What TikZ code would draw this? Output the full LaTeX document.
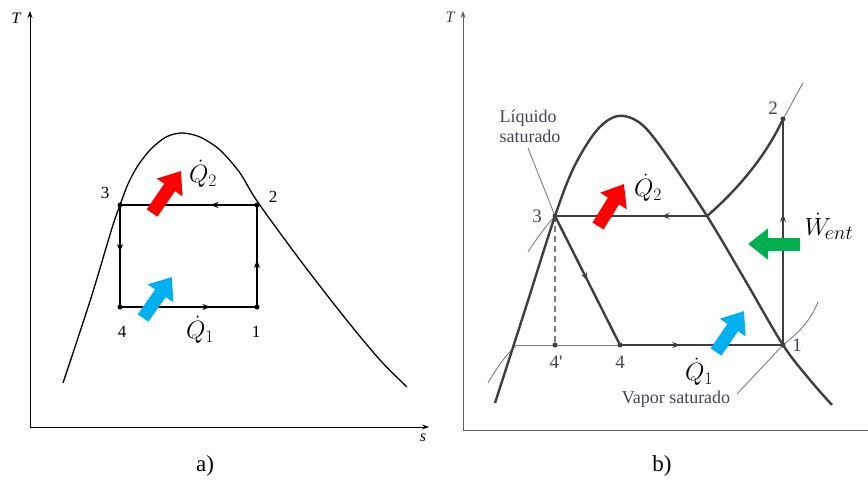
\RequirePackage{fix-cm}
\documentclass[tikz,border=0pt]{standalone}
\usepackage{fontspec}
\setmainfont{Liberation Serif}
\usetikzlibrary{arrows.meta,decorations.markings}
\definecolor{redA}{RGB}{255,0,0}
\definecolor{blueA}{RGB}{0,176,240}
\definecolor{greenA}{RGB}{0,176,80}
\definecolor{lineB}{RGB}{62,62,62}
\definecolor{thinB}{RGB}{125,125,125}
\definecolor{txtB}{RGB}{68,68,88}
\definecolor{axisB}{RGB}{95,95,95}
\tikzset{
  midarrow/.style={postaction={decorate},decoration={markings,mark=at position #1 with {\arrow{Stealth[length=8pt,width=6pt]}}}},
  blockarrow/.style={line width=13pt,-{Triangle[length=20pt,width=30pt]}},
  ptdot/.style={circle,fill,inner sep=0pt,minimum size=5pt},
  axisline/.style={line width=1pt,-{Stealth[length=7pt,width=5pt]}},
  cyca/.style={line width=2.2pt,black},
  cycb/.style={line width=2.4pt,lineB},
  thinline/.style={line width=0.9pt,thinB},
  numa/.style={font=\fontsize{17}{19}\selectfont},
  numb/.style={font=\fontsize{19}{21}\selectfont,text=txtB},
  txtlab/.style={font=\fontsize{18}{20}\selectfont,text=txtB},
  qlabel/.style={font=\fontsize{25}{28}\selectfont},
  caption/.style={font=\fontsize{23}{26}\selectfont},
  axlabel/.style={font=\fontsize{16}{18}\selectfont\itshape},
}
\begin{document}
\begin{tikzpicture}[x=1pt,y=-1pt]
\useasboundingbox (0,0) rectangle (868,480);

% ---------------- Panel a ----------------
\coordinate (aO) at (30,427);
\coordinate (aT) at (30,11);
\coordinate (aS) at (429,427);
\draw[axisline] (aO) -- (aT);
\draw[axisline] (aO) -- (aS);
\node[axlabel] (aTl) at (16,18) {T};
\node[axlabel] (aSl) at (423,438) {s};

\draw[line width=1.3pt] plot[smooth,tension=0.5] coordinates
  {(63,383) (91,298) (112,228) (120,205) (128,184) (137,167) (150,150) (166,137) (182,133) (200,137) (220,150) (240,173) (257,201) (300,260) (345,318) (380,360) (407,387)};

\coordinate (a1) at (257,307);
\coordinate (a2) at (257,205);
\coordinate (a3) at (120,205);
\coordinate (a4) at (120,307);
\draw[cyca,midarrow=0.34] (a2) -- (a3);
\draw[cyca,midarrow=0.46] (a3) -- (a4);
\draw[cyca,midarrow=0.66] (a4) -- (a1);
\draw[cyca,midarrow=0.46] (a1) -- (a2);
\foreach \p in {a1,a2,a3,a4} \node[ptdot] at (\p) {};

\node[numa] (la3) at (105,193) {3};
\node[numa] (la2) at (273,197) {2};
\node[numa] (la4) at (122,332) {4};
\node[numa] (la1) at (256,332) {1};

\coordinate (aRt) at (152,213);
\coordinate (aRh) at (181,171);
\draw[blockarrow,redA] (aRt) -- (aRh);
\coordinate (aBt) at (143,318);
\coordinate (aBh) at (172,277);
\draw[blockarrow,blueA] (aBt) -- (aBh);
\node[qlabel] (aQ2) at (203,174) {$\dot{Q}_2$};
\node[qlabel] (aQ1) at (200,330) {$\dot{Q}_1$};
\node[caption] (capa) at (205,466) {a)};

% ---------------- Panel b ----------------
\coordinate (bO) at (463,430);
\coordinate (bT) at (463,11);
\coordinate (bS) at (868,430);
\draw[axisline,axisB] (bO) -- (bT);
\draw[line width=1pt,axisB] (bO) -- (bS);
\node[axlabel,text=txtB] (bTl) at (450,17) {T};

\coordinate (b1) at (783,345);
\coordinate (b2) at (783,119);
\coordinate (b3) at (555,216);
\coordinate (b4) at (620,345);
\coordinate (b4p) at (555,345);
\coordinate (bsv) at (707,216);
\coordinate (bll) at (517,345);

% thin gray lines (isobars and leaders)
\draw[thinline] (488,383) .. controls (497,368) and (506,354) .. (bll);
\draw[thinline] (bll) -- (b4);
\draw[thinline] (528,252) .. controls (537,238) and (546,226) .. (b3);
\draw[thinline] (528,148) -- (b3);
\draw[thinline] (b2) .. controls (790,107) and (796,95) .. (803,83);
\draw[thinline] (818,302) .. controls (810,322) and (798,333) .. (b1) -- (737,394);
\draw[thinline,dashed,dash pattern=on 6pt off 4pt,line width=1.2pt] (b3) -- (b4p);

% dome
\draw[cycb] plot[smooth,tension=0.55] coordinates
  {(495,403) (525,310) (555,216) (574,167) (597,130) (618,116) (640,123) (663,150) (707,216) (745,280) (783,345) (810,380) (832,405)};

% cycle
\draw[cycb] (bsv) .. controls (735,192) and (765,158) .. (b2);
\draw[cycb,midarrow=0.3] (bsv) -- (b3);
\draw[cycb,midarrow=0.5] (b3) -- (b4);
\draw[cycb,midarrow=0.37] (b4) -- (b1);
\draw[cycb,midarrow=0.58] (b1) -- (b2);
\foreach \p in {b1,b2,b3,b4,b4p} \node[ptdot,lineB] at (\p) {};

\node[numb] (lb3) at (537,216) {3};
\node[numb] (lb2) at (773,108) {2};
\node[numb] (lb1) at (797,345) {1};
\node[numb] (lb4p) at (556,362) {4\textquotesingle};
\node[numb] (lb4) at (620,362) {4};
\node[txtlab,align=left,inner sep=1pt] (lliq) at (530,126) {Líquido\\saturado};
\node[txtlab,inner sep=1pt] (lvap) at (676,399) {Vapor saturado};

\coordinate (bRt) at (598,226);
\coordinate (bRh) at (624,184);
\draw[blockarrow,redA] (bRt) -- (bRh);
\coordinate (bBt) at (716,352);
\coordinate (bBh) at (744,311);
\draw[blockarrow,blueA] (bBt) -- (bBh);
\coordinate (bGt) at (800,244);
\coordinate (bGh) at (748,244);
\draw[blockarrow,greenA] (bGt) -- (bGh);

\node[qlabel] (bQ2) at (648,188) {$\dot{Q}_2$};
\node[qlabel,inner sep=1pt] (bQ1) at (699,372) {$\dot{Q}_1$};
\node[qlabel,inner sep=1pt] (bW) at (829,226) {$\dot{W}_{\!\mbox{\fontsize{20}{22}\selectfont$ent$}}$};
\node[caption] (capb) at (662,466) {b)};
\end{tikzpicture}
\end{document}
